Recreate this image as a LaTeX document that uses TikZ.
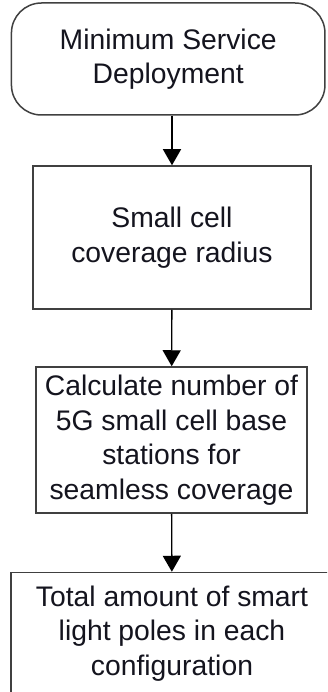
\documentclass[tikz,border=0pt]{standalone}
\usepackage{fontspec}
\setmainfont{Liberation Sans}
\usetikzlibrary{arrows.meta, positioning}
\definecolor{boxedge}{RGB}{64,64,64}
\definecolor{boxtext}{RGB}{20,20,30}

\begin{document}
\begin{tikzpicture}[
    x=1pt, y=-1pt,
    box/.style={rectangle, draw=boxedge, line width=1.5pt, fill=white, align=center, text=boxtext,
        inner sep=0pt, font=\fontsize{28.3}{34.5}\selectfont},
    startbox/.style={box, rounded corners=30pt},
    arrow/.style={-{Triangle[length=16pt, width=18pt]}, line width=1.4pt, black}
]
    \path[use as bounding box, clip] (0,0) rectangle (327,692);

    % Start
    \node[startbox, minimum width=313.5pt, minimum height=112pt] (start) at (168.2, 59) {Minimum Service\\Deployment};

    % Radius
    \node[box, minimum width=278pt, minimum height=143pt] (radius) at (172, 237.5) {Small cell\\coverage radius};

    % Number of base stations
    \node[box, minimum width=271pt, minimum height=146pt] (stations) at (171.5, 440) {Calculate number of\\5G small cell base\\stations for\\seamless coverage};

    % Light poles
    \node[box, minimum width=322pt, minimum height=122pt] (poles) at (172, 633.5) {Total amount of smart\\light poles in each\\configuration};

    % Arrows
    \draw[arrow] (start.south -| radius.north) -- (radius.north);
    \draw[arrow] (radius) -- (stations);
    \draw[arrow] (stations) -- (poles);
\end{tikzpicture}
\end{document}
